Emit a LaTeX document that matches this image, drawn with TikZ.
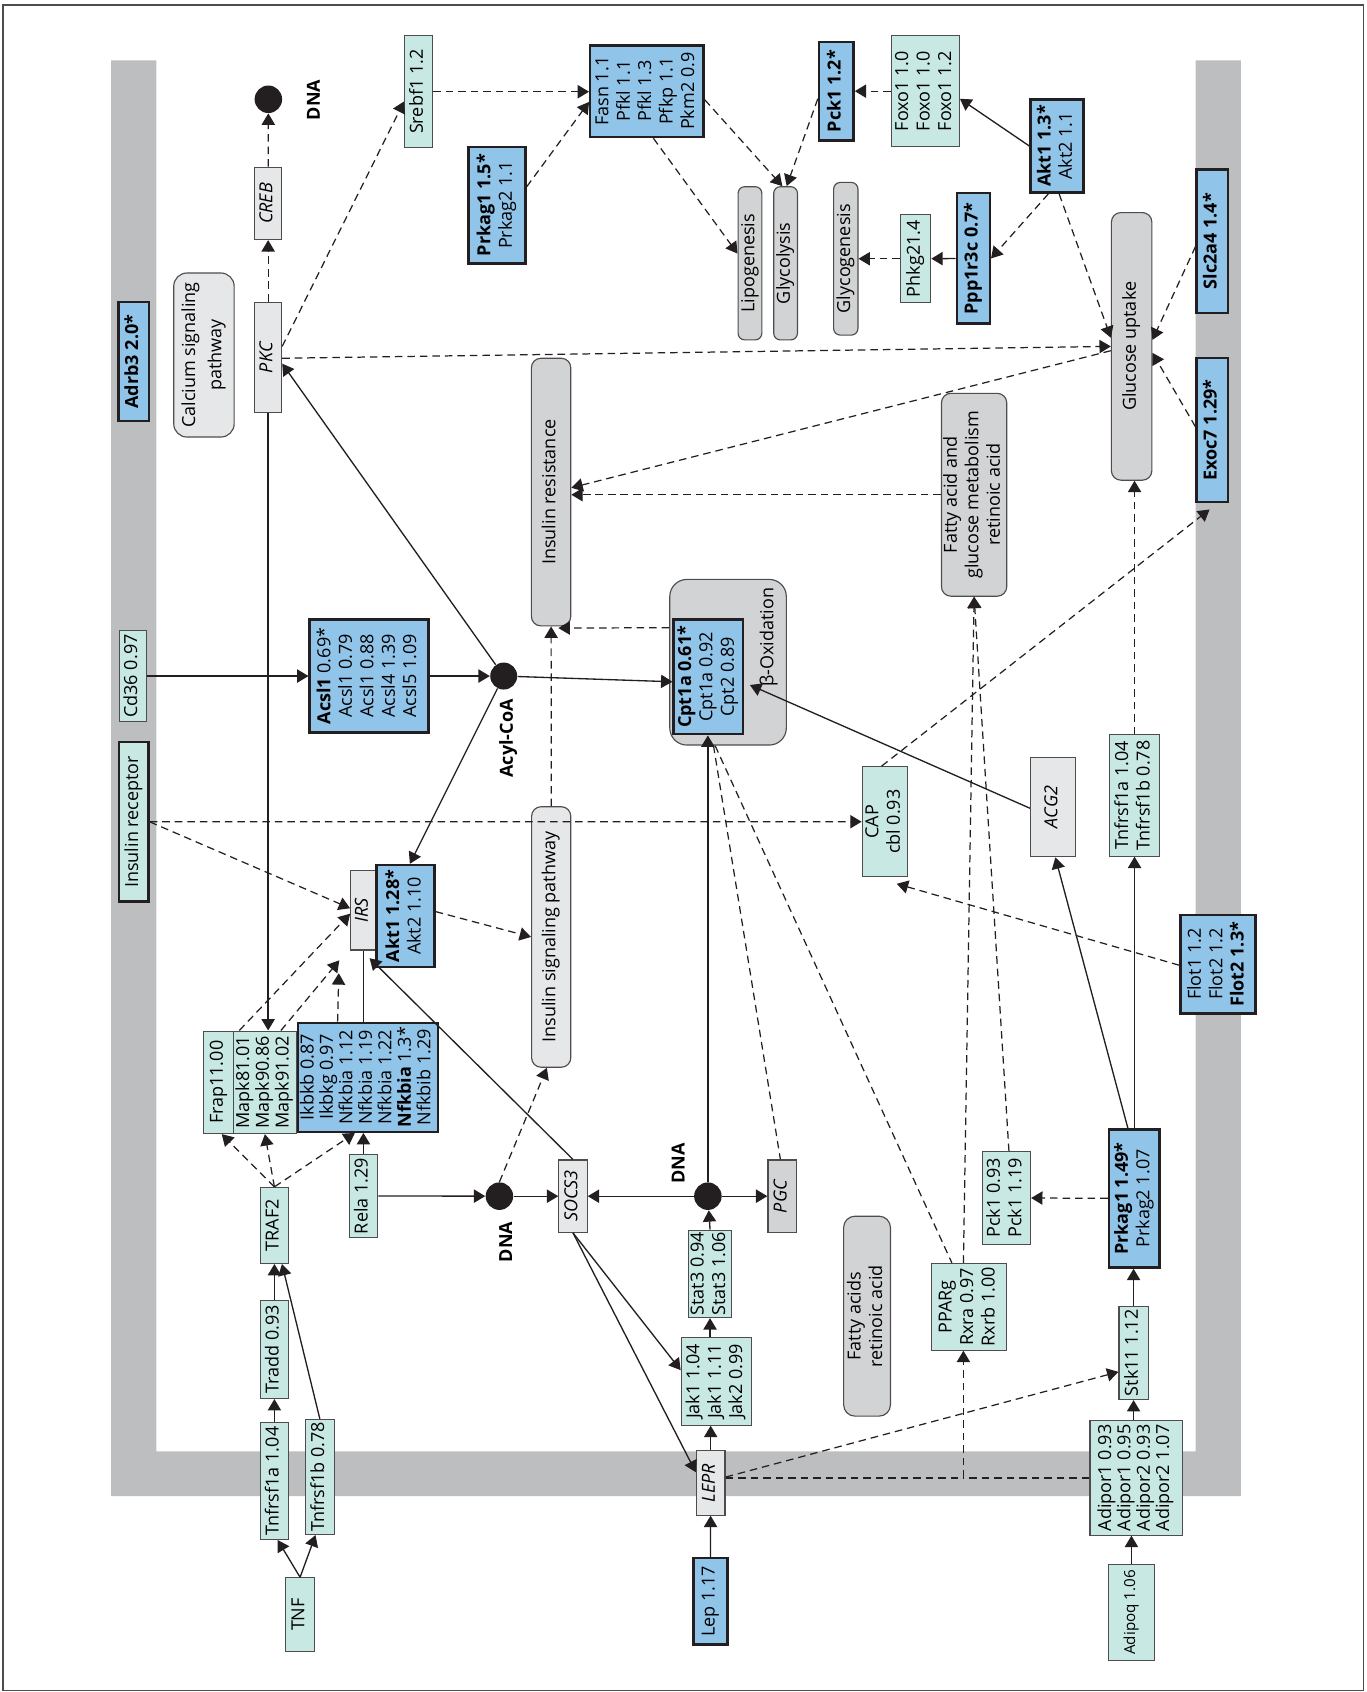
\documentclass[tikz,border=0pt]{standalone}
\usepackage{fontspec}
\setmainfont{Open Sans}
\usepackage{graphicx}
\usetikzlibrary{calc,arrows.meta}
\definecolor{ptblue}{HTML}{91C4E9}
\definecolor{ptteal}{HTML}{C8E8E4}
\definecolor{ptlight}{HTML}{E6E7E8}
\definecolor{ptgray}{HTML}{D1D3D4}
\definecolor{ptmembrane}{HTML}{BCBEC0}
\definecolor{ptline}{HTML}{231F20}
\definecolor{ptframe}{HTML}{4D4D4F}
\newcommand{\vtxt}[1]{\rotatebox{90}{\begin{tabular}{@{}c@{}}#1\end{tabular}}}

\begin{document}
\begin{tikzpicture}[x=0.02cm, y=-0.02cm,
        base/.style={inner sep=0pt, line width=0.6pt, draw=ptline!80, font=\fontsize{9.5}{11.3}\selectfont},
        gene/.style={base, fill=ptteal},
        hit/.style={base, fill=ptblue, draw=ptline, line width=1.3pt},
        cmpd/.style={base, fill=ptlight},
        proc/.style={base, fill=ptgray, rounded corners=3.5pt},
        pway/.style={proc, fill=ptlight},
        tight/.style={font=\fontsize{9.5}{10}\selectfont},
        sz/.style 2 args={minimum width=#1*0.02cm, minimum height=#2*0.02cm},
        dna/.style={circle, fill=ptline, inner sep=0pt, minimum size=0.51cm},
        lbl/.style={font=\bfseries\fontsize{9.5}{11}\selectfont, inner sep=0pt},
        act/.style={-{Triangle[length=6pt,width=7pt]}, draw=ptline, line width=0.7pt},
        ind/.style={act, dash pattern=on 4pt off 2.6pt, line width=0.65pt},
        lnk/.style={draw=ptline, dash pattern=on 4pt off 2.6pt, line width=0.65pt},
        bnd/.style={draw=ptline, line width=0.7pt}
      ]
        \useasboundingbox (0,0) rectangle (1266,1568);
        \draw[ptframe, line width=0.9pt] (3,4.6) rectangle (1263.5,1566.5);
        \fill[ptmembrane] (103,56) -- (145,56) -- (145,1345) -- (1108,1345) -- (1108,56)
          -- (1150,56) -- (1150,1386.5) -- (103,1386.5) -- cycle;

        \node[hit, sz={28}{110}] (adrb) at (124,335) {\vtxt{\textbf{Adrb3 2.0*}}};
        \node[pway, sz={56}{152}, rounded corners=7pt] (calc) at (189,329) {\vtxt{Calcium signaling\\[2.5pt]pathway}};
        \node[cmpd, sz={25}{102}] (pkc) at (248.5,331) {\vtxt{\textit{PKC}}};
        \node[cmpd, sz={25}{67}] (creb) at (248.5,188.5) {\vtxt{\textit{CREB}}};
        \node[dna] (dnaA) at (248.7,92) {};
        \node[lbl] (dnaAlbl) at (290.4,92.7) {\rotatebox{90}{DNA}};
        \node[gene, sz={26}{104}] (srebf) at (388,85) {\vtxt{Srebf1 1.2}};
        \node[hit, sz={53}{108}] (prkA) at (460.5,190) {\vtxt{\textbf{Prkag1 1.5*}\\Prkag2 1.1}};
        \node[hit, sz={105}{85}] (fasn) at (599.5,84.5) {\vtxt{Fasn 1.1\\Pfkl 1.1\\Pfkl 1.3\\Pfkp 1.1\\Pkm2 0.9}};
        \node[proc, sz={22}{142}] (lipo) at (695,244) {\vtxt{Lipogenesis}};
        \node[proc, sz={22}{142}] (glyco) at (728,244) {\vtxt{Glycolysis}};
        \node[proc, sz={22.5}{141.5}] (glycg) at (783.8,239.8) {\vtxt{Glycogenesis}};
        \node[hit, sz={32}{91}] (pckA) at (775,84.5) {\vtxt{\textbf{Pck1 1.2*}}};
        \node[gene, sz={63}{103}] (foxo) at (857.5,84.5) {\vtxt{Foxo1 1.0\\Foxo1 1.0\\Foxo1 1.2}};
        \node[hit, sz={49}{86.5}] (aktA) at (979.5,135.3) {\vtxt{\textbf{Akt1 1.3*}\\Akt2 1.1}};
        \node[gene, sz={28}{81.5}] (phkg) at (848.5,239.8) {\vtxt{Phkg21.4}};
        \node[hit, sz={30.5}{121}] (ppp) at (902,239.5) {\vtxt{\textbf{Ppp1r3c 0.7*}}};
        \node[proc, sz={37.5}{248}, rounded corners=5pt] (gluc) at (1048.7,321) {\vtxt{Glucose uptake}};
        \node[hit, sz={29}{133}] (slc) at (1123.5,223.5) {\vtxt{\textbf{Slc2a4 1.4*}}};
        \node[hit, sz={29}{133}] (exoc) at (1123.5,398.5) {\vtxt{\textbf{Exoc7 1.29*}}};
        \node[proc, sz={36.5}{248}, rounded corners=5pt] (insres) at (510.7,456) {\vtxt{Insulin resistance}};
        \node[proc, sz={60.5}{188}, rounded corners=5pt] (fatm) at (902.7,458.5) {\vtxt{Fatty acid and\\glucose metabolism\\retinoic acid}};

        \node[gene, sz={25.5}{85}] (cd36) at (123.2,626.5) {\vtxt{Cd36 0.97}};
        \node[gene, sz={27.2}{148}, draw=ptline, line width=1.3pt] (insr) at (124,761.6) {\vtxt{Insulin receptor}};
        \node[hit, sz={110}{105}] (acsl) at (342,626.5) {\vtxt{\textbf{Acsl1} 0.69*\\Acsl1 0.79\\Acsl1 0.88\\Acsl4 1.39\\Acsl5 1.09}};
        \node[dna, minimum size=0.5cm] (acyl) at (466.8,626.5) {};
        \node[lbl] (acyllbl) at (471,684.3) {\rotatebox{90}{Acyl-CoA}};
        \node[proc, sz={108}{153.5}, rounded corners=9pt] (betaox) at (674.7,613.7) {};
        \node[font=\fontsize{9.5}{11}\selectfont, inner sep=0pt] (betaoxlbl) at (712.2,590.7) {\rotatebox{90}{β-Oxidation}};
        \node[hit, sz={64}{106.3}] (cpt) at (656.3,627.2) {\vtxt{\textbf{Cpt1a 0.61*}\\Cpt1a 0.92\\Cpt2 0.89}};
        \node[pway, sz={36.3}{241.4}, rounded corners=5pt] (insig) at (510.8,868.3) {\vtxt{Insulin signaling pathway}};
        \node[cmpd, sz={24}{73.4}] (irs) at (337,843.7) {\vtxt{\textit{IRS}}};
        \node[hit, sz={53.5}{94.3}] (aktB) at (375.8,848.8) {\vtxt{\textbf{Akt1 1.28*}\\Akt2 1.10}};
        \node[gene, sz={42}{102}] (cap) at (820,761.5) {\vtxt{CAP\\cbl 0.93}};
        \node[cmpd, sz={42}{92}] (acg) at (976,748) {\vtxt{\textit{ACG2}}};
        \node[gene, sz={45.8}{112.3}] (tnfR) at (1051.4,737.2) {\vtxt{Tnfrsf1a 1.04\\Tnfrsf1b 0.78}};
        \node[hit, sz={69.5}{91}] (flot) at (1128.7,893.5) {\vtxt{Flot1 1.2\\Flot2 1.2\\\textbf{Flot2 1.3*}}};

        \node[gene, sz={27.5}{95}] (frap) at (202.5,1003) {\vtxt{Frap11.00}};
        \node[gene, sz={58.6}{95}, font=\fontsize{9.5}{10.4}\selectfont] (mapk) at (245.5,1003) {\vtxt{Mapk81.01\\Mapk90.86\\Mapk91.02}};
        \node[hit, sz={130}{101}, tight] (ikbk) at (341,998.3) {\vtxt{Ikbkb 0.87\\Ikbkg 0.97\\Nfkbia 1.12\\Nfkbia 1.19\\Nfkbia 1.22\\\textbf{Nfkbia} 1.3*\\Nfkbib 1.29}};
        \node[gene, sz={26.5}{70.4}] (traf) at (254.3,1135.6) {\vtxt{TRAF2}};
        \node[gene, sz={26.5}{77.5}] (rela) at (336.8,1108.3) {\vtxt{Rela 1.29}};
        \node[dna] (dnaB) at (462.8,1108.5) {};
        \node[lbl] (dnaBlbl) at (468.7,1150.8) {\rotatebox{90}{DNA}};
        \node[cmpd, sz={26.3}{67}] (socs) at (531,1108.5) {\vtxt{\textit{SOCS3}}};
        \node[dna] (dnaC) at (656,1108.5) {};
        \node[lbl] (dnaClbl) at (628.4,1078.2) {\rotatebox{90}{DNA}};
        \node[base, fill=ptgray, sz={26.5}{67}] (pgc) at (724.9,1108.5) {\vtxt{\textit{PGC}}};
        \node[gene, sz={40}{81}] (stat) at (658,1180.5) {\vtxt{Stat3 0.94\\Stat3 1.06}};
        \node[gene, sz={65.4}{81}] (jak) at (664,1280.2) {\vtxt{Jak1 1.04\\Jak1 1.11\\Jak2 0.99}};
        \node[proc, sz={43.4}{185.3}, rounded corners=6pt] (fatr) at (803.5,1219.7) {\vtxt{Fatty acids\\retinoic acid}};
        \node[gene, sz={69.2}{80.4}] (ppar) at (897.8,1211) {\vtxt{PPARg\\Rxra 0.97\\Rxrb 1.00}};
        \node[gene, sz={44.8}{85.7}] (pckB) at (932.6,1110.1) {\vtxt{Pck1 0.93\\Pck1 1.19}};
        \node[hit, sz={47}{128}] (prkB) at (1051.2,1110.6) {\vtxt{\textbf{Prkag1 1.49*}\\Prkag2 1.07}};
        \node[gene, sz={27}{86.5}] (stk) at (1050.5,1253.7) {\vtxt{Stk11 1.12}};
        \node[gene, sz={85.3}{106}, tight] (adipor) at (1052.8,1369.6) {\vtxt{Adipor1 0.93\\Adipor1 0.95\\Adipor2 0.93\\Adipor2 1.07}};
        \node[gene, sz={43}{88.5}, font=\fontsize{8}{10}\selectfont] (adipoq) at (1048.5,1494.2) {\vtxt{Adipoq 1.06}};
        \node[cmpd, sz={26.6}{59.5}] (lepr) at (658.6,1374.3) {\vtxt{\textit{LEPR}}};
        \node[hit, sz={31.5}{80}] (lep) at (658.3,1484) {\vtxt{Lep 1.17}};
        \node[gene, sz={26.5}{91.2}] (tradd) at (254.3,1250.4) {\vtxt{Tradd 0.93}};
        \node[gene, sz={26.5}{108}] (tnfa) at (254.3,1372.6) {\vtxt{Tnfrsf1a 1.04}};
        \node[gene, sz={26.4}{106.6}] (tnfb) at (296.4,1368.7) {\vtxt{Tnfrsf1b 0.78}};
        \node[gene, sz={26.4}{68}] (tnf) at (278.1,1496.2) {\vtxt{TNF}};

        \draw[ind] (pkc) -- (creb);
        \draw[ind] (creb) -- (dnaA);
        \draw[ind] ($(pkc.east)+(0,-10)$) -- ($(srebf.west)+(0,9)$);
        \draw[ind] ($(pkc.east)+(0,1)$) -- (gluc.west);
        \draw[ind] (srebf.east) -- (srebf.east -| fasn.west);
        \draw[ind] ($(prkA.east)+(0,-17)$) -- ($(fasn.west)+(0,10)$);
        \draw[ind] ($(fasn.south)+(6,0)$) -- ($(lipo.west)+(0,-9)$);
        \draw[ind] ($(fasn.east)+(0,8)$) -- ($(glyco.north)+(-3,0)$);
        \draw[ind] ($(pckA.west)+(0,7)$) -- ($(glyco.north)+(1,0)$);
        \draw[ind] (foxo) -- (pckA);
        \draw[act] (aktA.west) -- ($(foxo.east)+(0,7)$);
        \draw[ind] ($(aktA.south)+(-8,0)$) -- (ppp.east);
        \draw[ind] ($(aktA.south)+(2,0)$) -- ($(gluc.west)+(0,-8)$);
        \draw[act] (ppp) -- (phkg);
        \draw[ind] (phkg) -- (glycg);
        \draw[ind] ($(slc.west)+(0,5)$) -- ($(gluc.east)+(0,-6)$);
        \draw[ind] ($(exoc.west)+(0,-3)$) -- ($(gluc.east)+(0,6)$);
        \draw[ind] (fatm.west) -- (fatm.west -| insres.east);
        \draw[ind] ($(gluc.west)+(0,4)$) -- ($(insres.east)+(0,-4)$);
        \draw[ind] ($(betaox.west)+(0,-32)$) -- ($(insres.south east)+(-12,1.5)$);
        \draw[ind] (insig) -- (insres);

        \draw[act] (cd36) -- (acsl);
        \draw[act] (acsl) -- (acyl);
        \draw[act] (acyl) -- ($(cpt.west)+(0,4.6)$);
        \draw[act] (acyl) -- ($(pkc.east)+(0,6)$);
        \draw[act] (acyl) -- ($(aktB.north)+(4,0)$);
        \draw[ind] (insr) -- (cap);
        \draw[ind] (insr.east) -- ($(irs.west)+(0,-2)$);
        \draw[act] (pkc) -- (pkc |- mapk.north);
        \draw[ind] ($(aktB.east)+(0,-4)$) -- (insig.west);
        \draw[ind] ($(frap.north east)+(5,0)$) -- ($(irs.west)+(0,3)$);
        \draw[ind] ($(mapk.north east)+(-15,0)$) -- ($(irs.south west)+(-10,9)$);
        \draw[ind] ($(ikbk.north west)+(38,0)$) -- ($(irs.south west)+(-10.5,21)$);
        \draw[bnd] (irs) -- (irs |- ikbk.north);
        \draw[act] (socs.north) -- ($(irs.south east)+(-7,7)$);

        \draw[ind] (traf.north) -- ($(frap.south)+(3,0)$);
        \draw[ind] (traf.north) -- (mapk.south);
        \draw[ind] (traf.north) -- ($(ikbk.south west)+(54,0)$);
        \draw[act] (rela) -- (rela |- ikbk.south);
        \draw[act] (rela) -- (dnaB);
        \draw[act] (dnaB) -- (socs);
        \draw[ind] (dnaB.north) -- ($(insig.south)+(-4,0)$);
        \draw[act] (dnaC) -- (socs);
        \draw[act] (dnaC) -- (pgc);
        \draw[act] (dnaC) -- (dnaC |- cpt.south);
        \draw[act] (stat.north) -- (dnaC);
        \draw[act] (jak.north -| stat) -- (stat.south);
        \draw[act] (lepr) -- (lepr |- jak.south);
        \draw[act] (lep) -- (lepr);
        \draw[act] (socs.south) -- ($(jak.west)+(0,-10.5)$);
        \draw[act] (socs.south) -- ($(lepr.west)+(0,-10)$);
        \draw[ind] ($(lepr.east)+(0,-5.5)$) -- ($(stk.west)+(0,17.6)$);
        \draw[ind] (lepr.east |- adipor.west) -| ($(ppar.south)+(-5,0)$);
        \draw[lnk] (adipor.west) -- ($(ppar.south |- adipor.west)+(-5,0)$);
        \draw[act] (adipoq) -- (adipoq |- adipor.south);
        \draw[act] (adipor.north -| stk) -- (stk);
        \draw[act] (stk) -- (stk |- prkB.south);
        \draw[ind] (prkB) -- (pckB);
        \draw[act] ($(prkB.north)+(-6,0)$) -- ($(acg.south)+(2,0)$);
        \draw[act] (prkB.north -| tnfR) -- (tnfR);
        \draw[ind] (tnfR) -- (tnfR |- gluc.south);
        \draw[act] ($(acg.west)+(0,1)$) -- ($(cpt.east)+(5.5,7.6)$);
        \draw[ind] ($(cap.north)+(-3,0)$) -- ($(exoc.south)+(-2.6,6)$);
        \draw[ind] ($(flot.west)+(0,1)$) -- ($(cap.south)+(11,6)$);
        \draw[ind] ($(pckB.north)+(2.4,0)$) -- (fatm.south);
        \draw[ind] ($(ppar.north)+(-5,0)$) -- (fatm.south);
        \draw[lnk] ($(betaox.south)+(-13.5,0)$) -- ($(pgc.north)+(-1.7,0)$);
        \draw[lnk] ($(betaox.south)+(-12,0)$) -- ($(ppar.north)+(-15.7,0)$);

        \draw[act] (tnf.north) -- ($(tnfa.south)+(3,0)$);
        \draw[act] (tnf.north) -- ($(tnfb.south)+(-4,0)$);
        \draw[act] (tnfa) -- (tradd);
        \draw[act] (tradd) -- (traf);
        \draw[act] (tnfb.north) -- ($(traf.south)+(7,0)$);
      \end{tikzpicture}
\end{document}
